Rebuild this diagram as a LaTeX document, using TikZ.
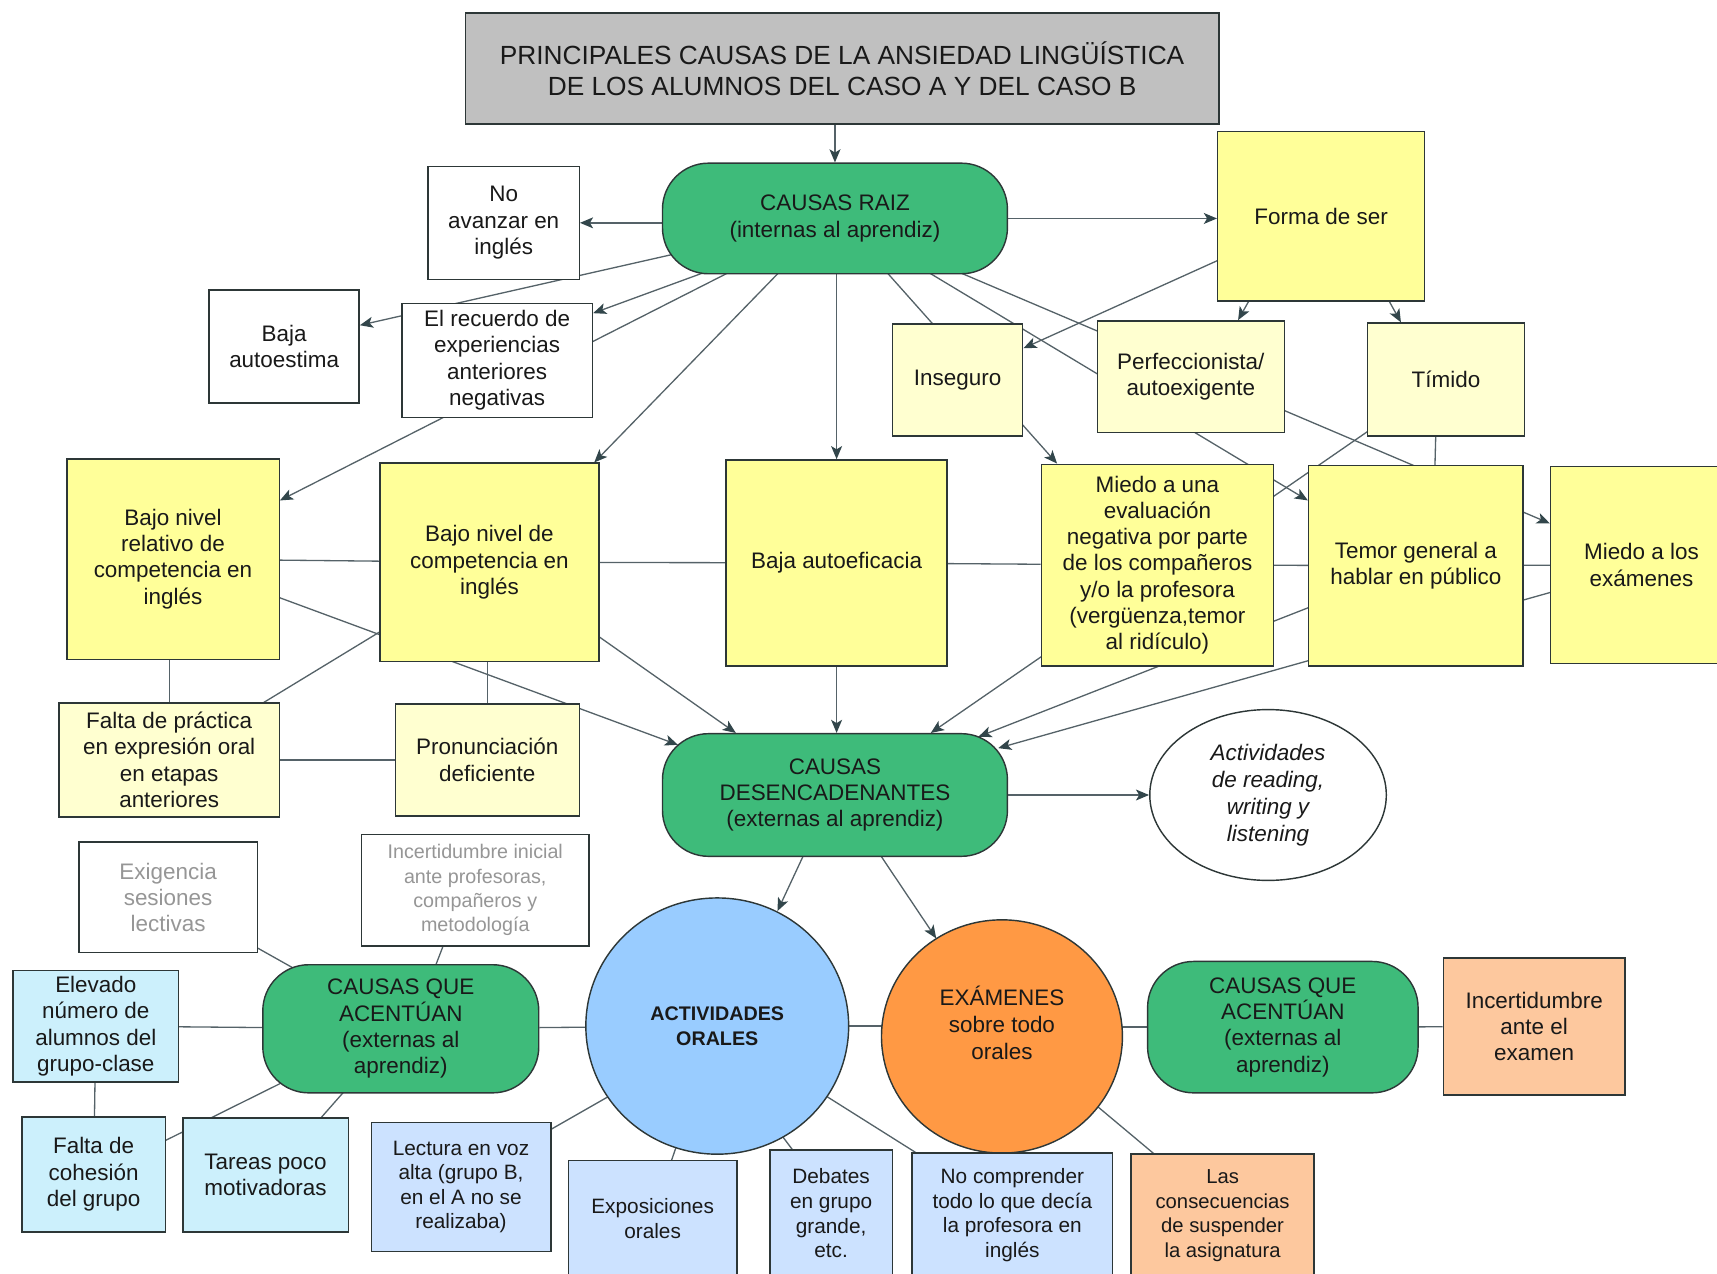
\documentclass[tikz,border=0pt]{standalone}
\usepackage{fontspec}
\setmainfont{Liberation Sans}
\usetikzlibrary{arrows.meta,calc,shapes.geometric}
\pgfdeclarelayer{bg}
\pgfsetlayers{bg,main}

\definecolor{titlegray}{RGB}{192,192,192}
\definecolor{rootgreen}{RGB}{62,187,122}
\definecolor{bigyellow}{RGB}{255,255,153}
\definecolor{paleyellow}{RGB}{255,255,208}
\definecolor{palecyan}{RGB}{204,240,252}
\definecolor{paleblue}{RGB}{204,226,255}
\definecolor{oralblue}{RGB}{153,204,255}
\definecolor{examorange}{RGB}{255,153,68}
\definecolor{peach}{RGB}{253,200,158}
\definecolor{edgecol}{RGB}{45,55,55}
\definecolor{wirecol}{RGB}{85,98,104}
\definecolor{tipcol}{RGB}{50,70,75}
\definecolor{fadedtext}{RGB}{150,150,150}

\tikzset{
  wh/.style 2 args={minimum width=#1pt, minimum height=#2pt},
  nodebase/.style={draw=edgecol, line width=1.3pt, align=center, inner sep=0pt,
    font=\fontsize{20.5}{24}\selectfont, text=black!90},
  plainbox/.style={nodebase, rectangle},
  whitebox/.style={plainbox, fill=white},
  bigbox/.style={plainbox, fill=bigyellow},
  palebox/.style={plainbox, fill=paleyellow},
  cyanbox/.style={plainbox, fill=palecyan},
  bluebox/.style={plainbox, fill=paleblue, font=\fontsize{19}{22.5}\selectfont},
  peachbox/.style={plainbox, fill=peach},
  hub/.style={nodebase, rectangle, rounded corners=42pt, fill=rootgreen},
  wire/.style={draw=wirecol, line width=1.2pt},
  arrowline/.style={wire, -{Stealth[length=12pt,width=10pt,inset=3pt,color=tipcol]}},
}

\begin{document}
\begin{tikzpicture}[x=1pt, y=-1pt]
\useasboundingbox (0,0) rectangle (1568,1163);
\clip (0,0) rectangle (1568,1163);

% ---------- title and root causes ----------
\node[plainbox, fill=titlegray, line width=1.6pt, wh={688}{101}, font=\fontsize{24}{28}\selectfont]
  (title) at (769,62.5) {PRINCIPALES CAUSAS DE LA ANSIEDAD LINGÜÍSTICA\\DE LOS ALUMNOS DEL CASO A Y DEL CASO B};
\node[hub, wh={315}{101}] (raiz) at (762.5,199.5) {CAUSAS RAIZ\\(internas al aprendiz)};
\node[whitebox, wh={138}{103}] (noav) at (460,203.5) {No\\avanzar en\\inglés};
\node[whitebox, wh={137}{103}] (bajaa) at (259.5,316.5) {Baja\\autoestima};
\node[whitebox, wh={174}{104}] (recu) at (454,329) {El recuerdo de\\experiencias\\anteriores\\negativas};
\node[bigbox, wh={189}{155}] (forma) at (1206.5,197.5) {Forma de ser};
\node[palebox, wh={119}{102}] (inseg) at (874.5,347) {Inseguro};
\node[palebox, wh={171}{102}] (perf) at (1087.5,344) {Perfeccionista/\\autoexigente};
\node[palebox, wh={143}{103}] (timido) at (1320.5,346.5) {Tímido};

% ---------- middle row ----------
\node[bigbox, wh={194}{183}] (bnr) at (158,510.5) {Bajo nivel\\relativo de\\competencia en\\inglés};
\node[bigbox, wh={200}{181}] (bnc) at (447,513.5) {Bajo nivel de\\competencia en\\inglés};
\node[bigbox, wh={202}{188}] (baut) at (764,514) {Baja autoeficacia};
\node[bigbox, wh={212}{184}] (miedo) at (1057,516) {Miedo a una\\evaluación\\negativa por parte\\de los compañeros\\y/o la profesora\\(vergüenza,temor\\al ridículo)};
\node[bigbox, wh={196}{183}] (temor) at (1293,516.5) {Temor general a\\hablar en público};
\node[bigbox, wh={166}{180}] (mexam) at (1499,516) {Miedo a los\\exámenes};
\node[palebox, wh={201}{104}] (falta) at (154.5,694) {Falta de práctica\\en expresión oral\\en etapas\\anteriores};
\node[palebox, wh={168}{102}] (pron) at (445,694) {Pronunciación\\deficiente};

% ---------- triggering causes ----------
\node[hub, wh={315}{112}] (desenc) at (762.5,726) {CAUSAS\\DESENCADENANTES\\(externas al aprendiz)};
\node[nodebase, ellipse, fill=white, wh={216}{156}, font=\fontsize{20.5}{24.5}\selectfont\itshape]
  (reading) at (1158,726) {Actividades\\de reading,\\writing y\\listening};

% ---------- lower part ----------
\node[whitebox, wh={163}{101}, text=fadedtext] (exig) at (153.5,819.5) {Exigencia\\sesiones\\lectivas};
\node[whitebox, wh={208}{102}, text=fadedtext, font=\fontsize{18}{22.3}\selectfont]
  (incini) at (434,813) {Incertidumbre inicial\\ante profesoras,\\compañeros y\\metodología};
\node[hub, wh={252}{117}] (cqa1) at (366,939.5) {CAUSAS QUE\\ACENTÚAN\\(externas al\\aprendiz)};
\node[cyanbox, wh={151}{102}] (elev) at (87.5,937) {Elevado\\número de\\alumnos del\\grupo-clase};
\node[cyanbox, wh={131}{105}] (cohes) at (85.5,1072.5) {Falta de\\cohesión\\del grupo};
\node[cyanbox, wh={151}{104}] (tareas) at (242.5,1073) {Tareas poco\\motivadoras};
\node[nodebase, ellipse, fill=oralblue, wh={240}{234}, font=\fontsize{18}{23}\selectfont\bfseries]
  (actor) at (655,937) {ACTIVIDADES\\ORALES};
\node[nodebase, ellipse, fill=examorange, wh={220}{213}, font=\fontsize{20.5}{25}\selectfont]
  (exam) at (915,946.5) {EXÁMENES\\sobre todo\\orales\\\mbox{}};
\node[hub, wh={247}{120}] (cqa2) at (1171.5,938) {CAUSAS QUE\\ACENTÚAN\\(externas al\\aprendiz)};
\node[peachbox, wh={166}{125}] (incex) at (1401,937.5) {Incertidumbre\\ante el\\examen};
\node[bluebox, wh={164}{118}] (lect) at (421,1084) {Lectura en voz\\alta (grupo B,\\en el A no se\\realizaba)};
\node[bluebox, wh={154}{106}] (expo) at (596,1113) {Exposiciones\\orales};
\node[bluebox, wh={112}{116}] (deb) at (759,1108) {Debates\\en grupo\\grande,\\etc.};
\node[bluebox, wh={183}{113}] (nocomp) at (924.5,1109.5) {No comprender\\todo lo que decía\\la profesora en\\inglés};
\node[peachbox, wh={167}{112}, font=\fontsize{18.5}{22.5}\selectfont] (conse) at (1116.5,1110) {Las\\consecuencias\\de suspender\\la asignatura};

% ---------- connectors, kept behind the boxes ----------
\begin{pgfonlayer}{bg}
  % from the title and the root causes
  \draw[arrowline] (raiz.north |- title.south) -- (raiz.north);
  \draw[arrowline] (noav.east -| raiz.center) -- (noav.east);
  \draw[arrowline] (raiz.center) -- (raiz.center -| forma.west);
  \draw[arrowline] ($(raiz.center)+(-141,31.2)$) -- ($(bajaa.east)+(0,-19.5)$);
  \draw[arrowline] ($(raiz.center)+(-103.5,43.5)$) -- ($(recu.east)+(0,-43)$);
  \draw[arrowline] ($(raiz.center)+(-87.5,44.5)$) -- ($(bnr.east)+(0,-53.5)$);
  \draw[arrowline] ($(raiz.center)+(-45.5,43.5)$) -- ($(bnc.north east)+(-5,0)$);
  \draw[arrowline] (raiz.center -| baut.north) -- (baut.north);
  \draw[arrowline] ($(raiz.center)+(40.5,41.5)$) -- ($(miedo.north west)+(15,0)$);
  \draw[arrowline] ($(raiz.center)+(77.5,44.5)$) -- ($(temor.west)+(0,-59.5)$);
  \draw[arrowline] ($(raiz.center)+(102.5,44.5)$) -- ($(mexam.west)+(0,-38)$);

  % personality traits
  \draw[arrowline] ($(forma.center)+(-81.5,34.5)$) -- ($(inseg.east)+(0,-29)$);
  \draw[arrowline] ($(forma.center)+(-60.5,67.5)$) -- ($(perf.north east)+(-43,0)$);
  \draw[arrowline] ($(forma.center)+(56.5,67.5)$) -- ($(timido.north west)+(31,0)$);
  \draw[wire] ($(timido.center)+(-8,0)$) -- ($(temor.center)+(15,0)$);

  % into the triggering causes
  \draw[arrowline] ($(timido.center)+(-58.5,38.5)$) -- ($(desenc.north)+(87.5,0)$);
  \draw[arrowline] ($(temor.center)+(-83,32.5)$) -- ($(desenc.center)+(131,-53.2)$);
  \draw[arrowline] ($(mexam.center)+(-69,21)$) -- ($(desenc.center)+(149.1,-42.8)$);
  \draw[arrowline] ($(bnr.center)+(87,31.5)$) -- ($(desenc.center)+(-143.4,-45.8)$);
  \draw[arrowline] ($(bnc.center)+(88,59.5)$) -- ($(desenc.north)+(-90.5,0)$);
  \draw[arrowline] (baut.center) -- (baut.center |- desenc.north);

  % middle row links
  \draw[wire] (bnr) -- (bnc);
  \draw[wire] (bnc) -- (baut);
  \draw[wire] (baut) -- (miedo);
  \draw[wire] (miedo) -- (temor);
  \draw[wire] (temor) -- (mexam);
  \draw[wire] (falta.center) -- (falta.center |- bnr.center);
  \draw[wire] ($(falta.center)+(76.5,-46.5)$) -- ($(bnc.center)+(-87,55.5)$);
  \draw[wire] (falta) -- (pron);
  \draw[wire] (pron.center) -- (pron.center |- bnc.center);

  % out of the triggering causes
  \draw[arrowline] (desenc.center) -- (reading.west);
  \draw[arrowline] ($(desenc.center)+(-24.5,46)$) -- ($(actor.center)+(55,-105)$);
  \draw[arrowline] ($(desenc.center)+(37.5,49)$) -- ($(exam.center)+(-60,-89.5)$);

  % aggravating causes, left
  \draw[wire] ($(exig.center)+(71.5,40.5)$) -- ($(cqa1.center)+(-76,-43)$);
  \draw[wire] ($(incini.center)+(-24,37)$) -- ($(cqa1.center)+(24,-37.5)$);
  \draw[wire] (elev) -- (cqa1);
  \draw[wire] (cqa1) -- (actor);
  \draw[wire] (elev.center) -- (cohes.center);
  \draw[wire] ($(cohes.center)+(54.5,-25.5)$) -- ($(cqa1.center)+(-91,40.5)$);
  \draw[wire] ($(tareas.center)+(42.5,-43)$) -- ($(cqa1.center)+(-44,48.5)$);

  % oral activities and exams
  \draw[wire] ($(lect.center)+(74,-48)$) -- ($(actor.center)+(-90,59)$);
  \draw[wire] ($(actor.center)+(-35,103)$) -- ($(expo.center)+(12,-38)$);
  \draw[wire] ($(actor.center)+(50,88)$) -- ($(deb.center)+(-24,-43)$);
  \draw[wire] ($(actor.center)+(90,58)$) -- ($(nocomp.center)+(-79.5,-51.5)$);
  \draw[wire] (actor.center) -- (actor.center -| exam.center);
  \draw[wire] (exam.center |- cqa2.center) -- (cqa2.center);
  \draw[wire] (cqa2) -- (incex);
  \draw[wire] ($(exam.center)+(70,49.5)$) -- ($(conse.center)+(-51.5,-47)$);
\end{pgfonlayer}
\end{tikzpicture}
\end{document}
